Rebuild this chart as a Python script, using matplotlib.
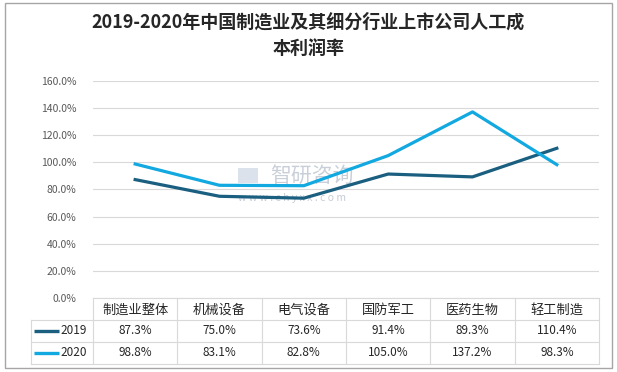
import numpy as np
import matplotlib
matplotlib.use('Agg')
import matplotlib.pyplot as plt
from matplotlib.lines import Line2D
from matplotlib.patches import Rectangle
from matplotlib.transforms import blended_transform_factory

plt.rcParams['font.family'] = ['Noto Sans CJK SC', 'DejaVu Sans']

categories = ['制造业整体', '机械设备', '电气设备', '国防军工', '医药生物', '轻工制造']
series_names = ['2019', '2020']
v2019 = [87.3, 75.0, 73.6, 91.4, 89.3, 110.4]
v2020 = [98.8, 83.1, 82.8, 105.0, 137.2, 98.3]
colors = ['#1A5E80', '#12A8E0']
yticks = [0, 20, 40, 60, 80, 100, 120, 140, 160]

W, H = 617, 372
fig = plt.figure(figsize=(W / 100, H / 100), dpi=100)

def fx(px):
    return px / W

def fy(py):
    return 1 - py / H

# axes placement in pixels
ax_l, ax_r, ax_t, ax_b = 93, 599, 81, 298
ax = fig.add_axes([fx(ax_l), fy(ax_b), fx(ax_r - ax_l), (ax_b - ax_t) / H])

x = np.arange(len(categories))
for vals, c, name in zip([v2019, v2020], colors, series_names):
    ax.plot(x, np.array(vals) / 100, color=c, lw=2.3, label=name, zorder=3,
            solid_joinstyle='round')

ax.set_xlim(-0.5, len(categories) - 0.5)
ax.set_ylim(0, 1.6)
ax.set_yticks(np.array(yticks) / 100)
ax.set_yticklabels(['%.1f%%' % t for t in yticks], color='#595959', fontsize=7.5)
ax.tick_params(axis='y', length=0, pad=12)
ax.set_xticks([])
ax.grid(axis='y', color='#D9D9D9', lw=0.8)
for s in ['left', 'right', 'top']:
    ax.spines[s].set_visible(False)
ax.spines['bottom'].set_color('#D9D9D9')
ax.spines['bottom'].set_linewidth(0.8)

# watermark
ax.add_patch(Rectangle((1.22, 0.845), 0.24, 0.115, facecolor='#C5D0E0', alpha=0.6,
                       edgecolor='none', zorder=1))
ax.text(1.6, 0.9, '智研咨询', fontsize=15, color='#B8C0CC', alpha=0.75,
        ha='left', va='center', zorder=1)
ax.text(1.22, 0.735, 'w w w . c h y x x . c o m', fontsize=7.5, color='#B8C0CC',
        alpha=0.8, ha='left', va='center', zorder=1)

# data table
tr = blended_transform_factory(ax.transData, fig.transFigure)
gc = '#D9D9D9'
row_y = [298, 320, 342, 364]
left_px = 31
for i in range(len(categories) + 1):
    fig.add_artist(Line2D([i - 0.5, i - 0.5], [fy(row_y[0]), fy(row_y[-1])],
                          transform=tr, color=gc, lw=0.8))
for yy in row_y[1:]:
    fig.add_artist(Line2D([fx(left_px), fx(ax_r)], [fy(yy), fy(yy)], color=gc, lw=0.8))
fig.add_artist(Line2D([fx(left_px), fx(left_px)], [fy(row_y[1]), fy(row_y[-1])],
                      color=gc, lw=0.8))

for i, cat in enumerate(categories):
    fig.text(x[i], fy((row_y[0] + row_y[1]) / 2 + 1), cat, transform=tr,
             ha='center', va='center', fontsize=9.5, color='#262626')
for r, (vals, c, name) in enumerate(zip([v2019, v2020], colors, series_names)):
    yc = fy((row_y[r + 1] + row_y[r + 2]) / 2)
    for i, v in enumerate(vals):
        fig.text(x[i], yc, '%.1f%%' % v, transform=tr, ha='center', va='center',
                 fontsize=8.5, color='#262626')
    fig.add_artist(Line2D([fx(34), fx(59)], [yc, yc], color=c, lw=2.4,
                          solid_capstyle='butt'))
    fig.text(fx(60), yc, name, ha='left', va='center', fontsize=8.5, color='#262626')

# title
fig.text(0.5, fy(22), '2019-2020年中国制造业及其细分行业上市公司人工成',
         ha='center', va='center', fontsize=13, fontweight='bold', color='#262626')
fig.text(0.5, fy(48), '本利润率', ha='center', va='center', fontsize=13,
         fontweight='bold', color='#262626')

# outer border
fig.add_artist(Rectangle((fx(5), fy(368)), fx(607), (368 - 3) / H,
                         transform=fig.transFigure, fill=False,
                         edgecolor='#A6A6A6', lw=1))

fig.savefig('out.png', dpi=100)
